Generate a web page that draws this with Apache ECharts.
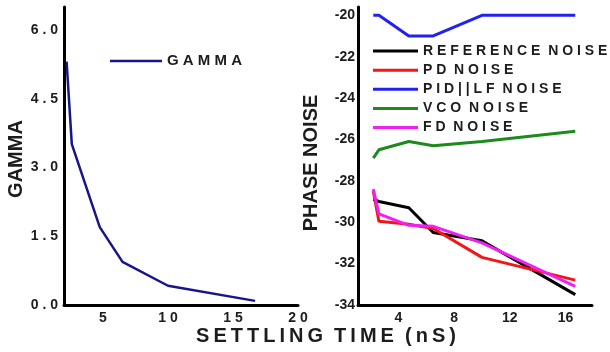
<html>
  <head>
    <title>Settling time</title>
    <script src="https://cdn.jsdelivr.net/npm/echarts@6/dist/echarts.min.js"></script>
    <style>
      body { margin: 0; background: #fff; }
      #chart { width: 610px; height: 352px; }
    </style>
  </head>

  <body>
    <div id="chart"></div>

    <script>
      // settling time (nS), shared by both panels
      var settlingTime = [2.2, 2.6, 4.75, 6.5, 10, 16.7]

      // left panel
      var gamma = [5.31, 3.51, 1.7, 0.94, 0.42, 0.09]
      var gammaTicks = [0, 1.5, 3, 4.5, 6]
      var leftTimeTicks = [5, 10, 15, 20]

      // right panel
      var referenceNoise = [-28.9, -29.0, -29.3, -30.5, -30.9, -33.5]
      var pdNoise = [-28.5, -29.95, -30.1, -30.3, -31.7, -32.8]
      var pidLfNoise = [-20, -20, -21, -21, -20, -20]
      var vcoNoise = [-26.9, -26.5, -26.1, -26.3, -26.1, -25.6]
      var fdNoise = [-28.4, -29.6, -30.15, -30.2, -31.0, -33.1]
      var noiseTicks = [-34, -32, -30, -28, -26, -24, -22, -20]
      var rightTimeTicks = [4, 8, 12, 16]

      var noiseNames = ['REFERENCE NOISE', 'PD NOISE', 'PID||LF NOISE', 'VCO NOISE', 'FD NOISE']
      var noiseData = [referenceNoise, pdNoise, pidLfNoise, vcoNoise, fdNoise]
      var noiseColors = ['#000000', '#f21616', '#2222f0', '#1e8a1e', '#f020f0']

      var font = 'Liberation Sans, Arial, sans-serif'
      var ink = '#1c1c1c'

      // spread letters like the original
      function spaced(s) {
        return s.split(' ').map(function(w) { return w.split('').join(' ') }).join('  ')
      }

      function pairs(ys) {
        return settlingTime.map(function(t, i) { return [t, ys[i]] })
      }

      var axisLine = { lineStyle: { color: '#000', width: 3 }, onZero: false }

      var chart = echarts.init(document.getElementById('chart'))

      var series = [
        {
          name: 'GAMMA',
          type: 'line',
          xAxisIndex: 0,
          yAxisIndex: 0,
          data: pairs(gamma),
          symbol: 'none',
          lineStyle: { color: '#16168a', width: 2.5 },
          itemStyle: { color: '#16168a' }
        }
      ]
      noiseNames.forEach(function(n, i) {
        series.push({
          name: n,
          type: 'line',
          xAxisIndex: 1,
          yAxisIndex: 1,
          data: pairs(noiseData[i]),
          symbol: 'none',
          lineStyle: { color: noiseColors[i], width: 3 },
          itemStyle: { color: noiseColors[i] },
          z: i === 4 ? 5 : 2
        })
      })

      chart.setOption({
        animation: false,
        grid: [
          { left: 64, right: 312, top: 7, bottom: 47 },
          { left: 358, right: 18, top: 7, bottom: 47 }
        ],
        xAxis: [
          {
            type: 'value',
            gridIndex: 0,
            min: 2,
            max: 20,
            axisLine: axisLine,
            axisTick: { show: false },
            splitLine: { show: false },
            axisLabel: {
              customValues: leftTimeTicks,
              margin: 1,
              color: ink,
              fontFamily: font,
              fontWeight: 'bold',
              fontSize: 14,
              formatter: function(v) { return spaced(String(v)) }
            }
          },
          {
            type: 'value',
            gridIndex: 1,
            min: 1.1,
            max: 17.9,
            axisLine: axisLine,
            axisTick: { show: false },
            splitLine: { show: false },
            axisLabel: {
              customValues: rightTimeTicks,
              margin: 1,
              color: ink,
              fontFamily: font,
              fontWeight: 'bold',
              fontSize: 14
            }
          }
        ],
        yAxis: [
          {
            type: 'value',
            gridIndex: 0,
            min: 0,
            max: 6.5,
            axisLine: axisLine,
            axisTick: { show: false },
            splitLine: { show: false },
            axisLabel: {
              customValues: gammaTicks,
              margin: 6,
              color: ink,
              fontFamily: font,
              fontWeight: 'bold',
              fontSize: 14,
              formatter: function(v) { return spaced(v.toFixed(1)) }
            }
          },
          {
            type: 'value',
            gridIndex: 1,
            min: -34,
            max: -19.6,
            axisLine: axisLine,
            axisTick: { show: false },
            splitLine: { show: false },
            axisLabel: {
              customValues: noiseTicks,
              margin: 3,
              color: ink,
              fontFamily: font,
              fontWeight: 'bold',
              fontSize: 14
            }
          }
        ],
        legend: [
          {
            data: ['GAMMA'],
            left: 110,
            top: 48,
            padding: 0,
            icon: 'rect',
            itemWidth: 52,
            itemHeight: 2.5,
            formatter: spaced,
            textStyle: { color: ink, fontFamily: font, fontWeight: 'bold', fontSize: 15 }
          },
          {
            data: noiseNames,
            orient: 'vertical',
            left: 373,
            top: 39,
            padding: 0,
            icon: 'rect',
            itemWidth: 45,
            itemHeight: 3,
            itemGap: -5,
            formatter: spaced,
            textStyle: { color: ink, fontFamily: font, fontWeight: 'bold', fontSize: 14, lineHeight: 16 }
          }
        ],
        graphic: [
          {
            type: 'text',
            x: 16,
            y: 159,
            rotation: Math.PI / 2,
            style: {
              text: 'GAMMA',
              fill: ink,
              font: 'bold 20px ' + font,
              align: 'center',
              verticalAlign: 'middle'
            }
          },
          {
            type: 'text',
            x: 311,
            y: 163,
            rotation: Math.PI / 2,
            style: {
              text: 'PHASE NOISE',
              fill: ink,
              font: 'bold 20px ' + font,
              align: 'center',
              verticalAlign: 'middle'
            }
          },
          {
            type: 'text',
            x: 326,
            y: 336,
            style: {
              text: 'S\u2009E\u2009T\u2009T\u2009L\u2009I\u2009N\u2009G  T\u2009I\u2009M\u2009E  (\u2009n\u2009S\u2009)',
              fill: ink,
              font: 'bold 20px ' + font,
              align: 'center',
              verticalAlign: 'middle'
            }
          }
        ],
        series: series
      })
    </script>
  </body>
</html>
